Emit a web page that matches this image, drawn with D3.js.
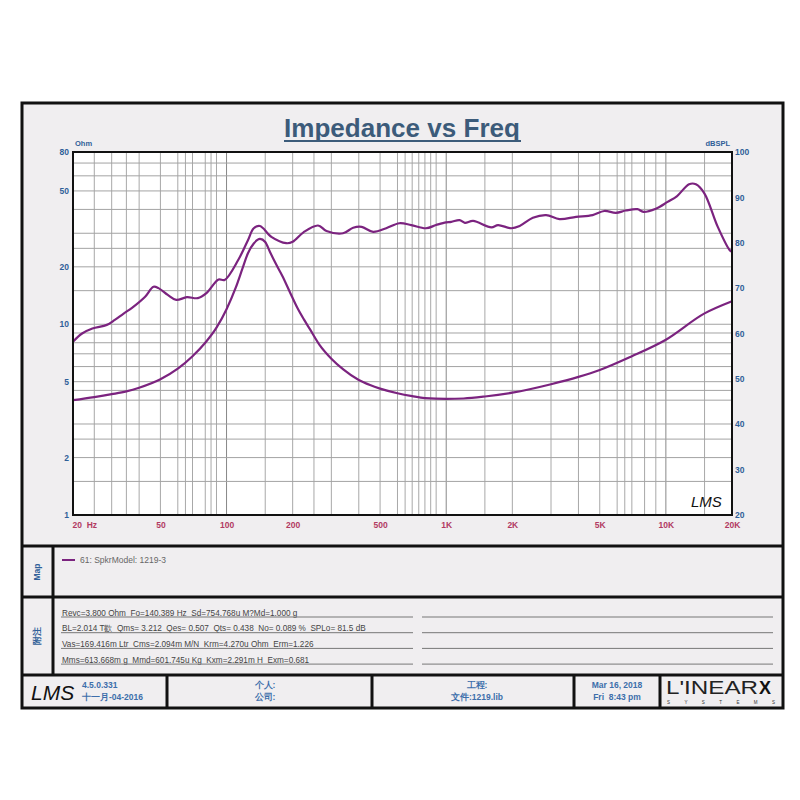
<!DOCTYPE html>
<html>
<head>
<meta charset="utf-8">
<script src="https://cdn.jsdelivr.net/npm/d3@7"></script>
<style>
  body { margin: 0; background: #fff; }
  text { font-family: "Liberation Sans", Arial, sans-serif; }
  .pre { white-space: pre; }
</style>
</head>
<body>
<svg id="chart" width="800" height="800"></svg>
<script>
// impedance (Ohm) curve
const zFreq = [20, 25, 30, 35, 40, 50, 60, 70, 80, 90, 100, 110, 118, 125, 133, 142, 150, 157, 165, 180, 195, 210, 225, 240, 265, 300, 340, 400, 450, 500, 600, 700, 800, 1000, 1200, 1500, 2000, 3000, 4000, 5000, 7000, 10000, 15000, 20000];
const zOhm  = [4.0, 4.15, 4.3, 4.45, 4.65, 5.15, 5.85, 6.8, 8.0, 9.6, 12, 15.5, 19.5, 23.5, 26.5, 28, 27, 24.2, 21.5, 17.8, 14.6, 12.2, 10.6, 9.4, 7.8, 6.6, 5.8, 5.1, 4.8, 4.6, 4.35, 4.2, 4.1, 4.06, 4.08, 4.18, 4.38, 4.85, 5.3, 5.76, 6.8, 8.3, 11.4, 13.2];

// SPL (dB) curve, right axis
const splFreq = [20, 22, 24.5, 28.5, 31, 34, 37, 42.6, 46.5, 49, 54, 59, 66, 74, 81, 92, 98, 113, 125, 133, 142, 160, 187, 200, 224, 261, 285, 339, 377, 412, 465, 533, 612, 693, 809, 899, 998, 1055, 1150, 1216, 1326, 1606, 1722, 1979, 2160, 2480, 2850, 3280, 3900, 4640, 5240, 5920, 6570, 7420, 7900, 9000, 10180, 11250, 12750, 13700, 14970, 17230, 19500, 20000];
const splDb   = [58.2, 60.0, 61.1, 61.9, 63.0, 64.4, 65.6, 68.1, 70.3, 70.0, 68.5, 67.4, 68.0, 67.8, 68.9, 71.9, 71.8, 76.2, 80.5, 83.2, 83.7, 81.3, 79.9, 80.2, 82.3, 83.8, 82.6, 82.1, 83.3, 83.5, 82.4, 83.2, 84.3, 83.9, 83.2, 83.9, 84.5, 84.6, 85.0, 84.4, 84.8, 83.4, 83.9, 83.2, 83.7, 85.5, 86.1, 85.2, 85.7, 86.1, 87.0, 86.6, 87.1, 87.4, 86.8, 87.5, 89.0, 90.3, 92.9, 92.9, 90.9, 83.5, 78.4, 78.0];

// ticks
const xTicks = [20, 50, 100, 200, 500, 1000, 2000, 5000, 10000, 20000];
const xTickLabels = ["20  Hz", "50", "100", "200", "500", "1K", "2K", "5K", "10K", "20K"];
const xGrid = [20, 25, 30, 35, 40, 50, 60, 65, 70, 80, 85, 90, 100, 150, 200, 250, 300, 400, 500, 600, 650, 700, 750, 800, 850, 900, 1000, 1500, 2000, 3000, 4000, 5000, 6000, 6500, 7000, 8000, 9000, 10000, 15000, 20000];
const yLeftTicks = [1, 2, 5, 10, 20, 50, 80];
const yGrid = [1, 1.5, 2, 2.5, 3, 4, 4.5, 5, 6, 7, 8, 9, 10, 15, 20, 25, 30, 40, 50, 60, 70, 80];
const yRightTicks = [20, 30, 40, 50, 60, 70, 80, 90, 100];

const notes = [
  "Revc=3.800 Ohm  Fo=140.389 Hz  Sd=754.768u M?Md=1.000 g",
  "BL=2.014 T歡  Qms= 3.212  Qes= 0.507  Qts= 0.438  No= 0.089 %  SPLo= 81.5 dB",
  "Vas=169.416m Ltr  Cms=2.094m M/N  Krm=4.270u Ohm  Erm=1.226",
  "Mms=613.668m g  Mmd=601.745u Kg  Kxm=2.291m H  Exm=0.681"
];

const purple = "#7b237f";
const blue = "#2f5f98";
const svg = d3.select("#chart");

// outer panel
svg.append("rect").attr("x", 22).attr("y", 103).attr("width", 761).attr("height", 605)
  .attr("fill", "#f0eef0").attr("stroke", "#111").attr("stroke-width", 3);

// panel separators
[546, 597, 675].forEach(yy => {
  svg.append("line").attr("x1", 22).attr("x2", 783).attr("y1", yy).attr("y2", yy)
    .attr("stroke", "#111").attr("stroke-width", 3);
});
svg.append("line").attr("x1", 53).attr("x2", 53).attr("y1", 546).attr("y2", 675)
  .attr("stroke", "#111").attr("stroke-width", 3);
[167, 372, 574, 660].forEach(xx => {
  svg.append("line").attr("x1", xx).attr("x2", xx).attr("y1", 675).attr("y2", 708)
    .attr("stroke", "#111").attr("stroke-width", 3);
});

// plot
const pLeft = 73, pRight = 732, pTop = 152, pBottom = 515;
const x = d3.scaleLog().domain([20, 20000]).range([pLeft, pRight]);
const y = d3.scaleLog().domain([1, 80]).range([pBottom, pTop]);
const yR = d3.scaleLinear().domain([20, 100]).range([pBottom, pTop]);

svg.append("rect").attr("x", pLeft).attr("y", pTop).attr("width", pRight - pLeft).attr("height", pBottom - pTop)
  .attr("fill", "#fff");

const grid = svg.append("g").attr("stroke", "#a3a3a3").attr("stroke-width", 1);
grid.selectAll(".vx").data(xGrid).join("line")
  .attr("x1", d => x(d)).attr("x2", d => x(d)).attr("y1", pTop).attr("y2", pBottom)
  .attr("stroke", d => [100, 1000, 10000].includes(d) ? "#888" : "#a8a8a8");
grid.selectAll(".hy").data(yGrid).join("line")
  .attr("x1", pLeft).attr("x2", pRight).attr("y1", d => y(d)).attr("y2", d => y(d));

// curves
const zLine = d3.line().x(d => x(d[0])).y(d => y(d[1])).curve(d3.curveMonotoneX);
const sLine = d3.line().x(d => x(d[0])).y(d => yR(d[1])).curve(d3.curveCatmullRom);
svg.append("path").datum(d3.zip(zFreq, zOhm)).attr("d", zLine)
  .attr("fill", "none").attr("stroke", purple).attr("stroke-width", 2.2);
svg.append("path").datum(d3.zip(splFreq, splDb)).attr("d", sLine)
  .attr("fill", "none").attr("stroke", purple).attr("stroke-width", 2.2);

svg.append("rect").attr("x", pLeft).attr("y", pTop).attr("width", pRight - pLeft).attr("height", pBottom - pTop)
  .attr("fill", "none").attr("stroke", "#111").attr("stroke-width", 2);

// axes
const xAxis = svg.append("g").attr("transform", `translate(0,${pBottom})`)
  .call(d3.axisBottom(x).tickValues(xTicks).tickSize(0).tickPadding(7)
    .tickFormat((d, i) => xTickLabels[i]));
const yAxis = svg.append("g").attr("transform", `translate(${pLeft},0)`)
  .call(d3.axisLeft(y).tickValues(yLeftTicks).tickSize(0).tickPadding(4).tickFormat(d3.format("d")));
const yrAxis = svg.append("g").attr("transform", `translate(${pRight},0)`)
  .call(d3.axisRight(yR).tickValues(yRightTicks).tickSize(0).tickPadding(3));
[xAxis, yAxis, yrAxis].forEach(a => {
  a.select(".domain").remove();
  a.selectAll("text").attr("font-family", "Liberation Sans, Arial, sans-serif")
    .attr("font-size", 8.5).attr("font-weight", "bold").attr("fill", blue);
});
xAxis.selectAll("text").attr("fill", "#b23a62").classed("pre", true)
  .attr("text-anchor", (d, i) => i === 0 ? "start" : "middle")
  .attr("dx", (d, i) => i === 0 ? -1 : 0);

svg.append("text").attr("x", 75).attr("y", 146).attr("font-size", 7.5).attr("font-weight", "bold")
  .attr("fill", blue).text("Ohm");
svg.append("text").attr("x", 730).attr("y", 146).attr("font-size", 7.5).attr("font-weight", "bold")
  .attr("text-anchor", "end").attr("fill", blue).text("dBSPL");

// title
svg.append("text").attr("x", 402).attr("y", 137).attr("text-anchor", "middle")
  .attr("font-family", "Liberation Sans Narrow, Liberation Sans, Arial, sans-serif")
  .attr("font-size", 26).attr("font-weight", "bold").attr("fill", "#3c5b7a")
  .attr("textLength", 236).attr("lengthAdjust", "spacingAndGlyphs")
  .text("Impedance vs Freq");
svg.append("line").attr("x1", 284).attr("x2", 521).attr("y1", 141).attr("y2", 141)
  .attr("stroke", "#3c5b7a").attr("stroke-width", 2);

svg.append("text").attr("x", 691).attr("y", 507).attr("font-family", "DejaVu Serif, serif")
  .attr("font-style", "italic").attr("font-size", 15).attr("fill", "#111").text("LMS");

// Map panel
svg.append("text").attr("transform", "translate(40,572) rotate(-90)").attr("text-anchor", "middle")
  .attr("font-size", 8.5).attr("font-weight", "bold").attr("fill", blue).text("Map");
svg.append("line").attr("x1", 62).attr("x2", 75).attr("y1", 560).attr("y2", 560)
  .attr("stroke", purple).attr("stroke-width", 2);
svg.append("text").attr("x", 80).attr("y", 563).attr("font-size", 8.5).attr("fill", "#666")
  .text("61: SpkrModel: 1219-3");

// notes panel
svg.append("text").attr("transform", "translate(40,636) rotate(-90)").attr("text-anchor", "middle")
  .attr("font-family", "Noto Sans CJK SC, sans-serif")
  .attr("font-size", 9).attr("font-weight", "bold").attr("fill", blue).text("附注");
notes.forEach((t, i) => {
  const ly = 617 + i * 15.7;
  svg.append("text").attr("x", 62).attr("y", ly - 1.5).attr("font-size", 8.2).attr("fill", "#444")
    .classed("pre", true).text(t);
  svg.append("line").attr("x1", 61).attr("x2", 413).attr("y1", ly).attr("y2", ly)
    .attr("stroke", "#777").attr("stroke-width", 1);
  svg.append("line").attr("x1", 422).attr("x2", 773).attr("y1", ly).attr("y2", ly)
    .attr("stroke", "#777").attr("stroke-width", 1);
});

// footer
svg.append("text").attr("x", 31).attr("y", 700).attr("font-family", "DejaVu Serif, serif")
  .attr("font-style", "italic").attr("font-size", 21).attr("fill", "#111").text("LMS");
const foot = [
  [82, 688, "start", "4.5.0.331"], [82, 700, "start", "十一月-04-2016"],
  [265, 688, "middle", "个人:"], [265, 700, "middle", "公司:"],
  [477, 688, "middle", "工程:"], [477, 700, "middle", "文件:1219.lib"],
  [617, 688, "middle", "Mar 16, 2018"], [617, 700, "middle", "Fri  8:43 pm"]
];
foot.forEach(f => {
  svg.append("text").attr("x", f[0]).attr("y", f[1]).attr("text-anchor", f[2]).classed("pre", true)
    .attr("font-family", "Liberation Sans, Noto Sans CJK SC, sans-serif")
    .attr("font-size", 8.5).attr("font-weight", "bold").attr("fill", "#3d6eab").text(f[3]);
});
svg.append("text").attr("x", 666).attr("y", 694).attr("font-family", "Liberation Serif, serif")
  .attr("font-size", 18).attr("fill", "#222").attr("textLength", 92).attr("lengthAdjust", "spacingAndGlyphs")
  .text("L'INEAR");
svg.append("text").attr("x", 759).attr("y", 694).attr("font-family", "Liberation Sans, sans-serif")
  .attr("font-size", 18).attr("font-weight", "bold").attr("fill", "#111").text("X");
svg.append("text").attr("x", 667).attr("y", 704).attr("font-family", "Liberation Sans, sans-serif")
  .attr("font-size", 4.5).attr("fill", "#333").attr("textLength", 108).attr("lengthAdjust", "spacing")
  .text("SYSTEMS");
</script>
</body>
</html>
